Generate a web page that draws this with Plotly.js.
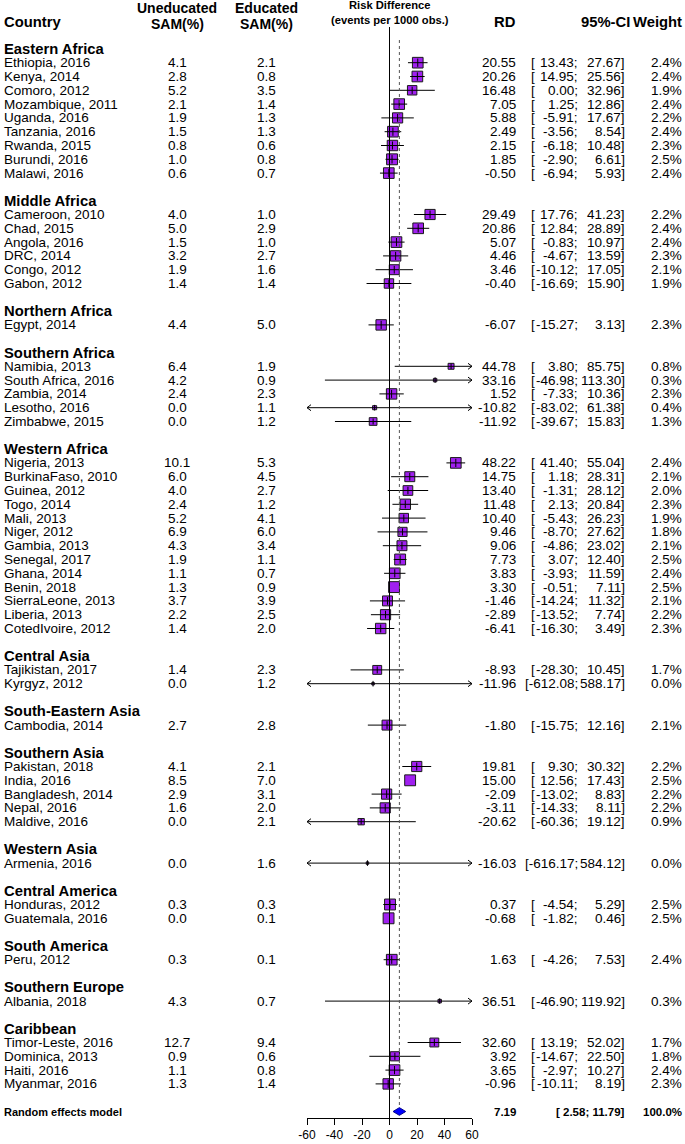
<!DOCTYPE html>
<html><head><meta charset="utf-8">
<script src="https://cdn.plot.ly/plotly-3.0.1.min.js"></script>
<style>html,body{margin:0;padding:0;background:#fff}</style>
</head><body><div id="chart" style="width:685px;height:1144px"></div>
<script>
// ---------------- DATA ----------------
const groupNames = ["Eastern Africa","Middle Africa","Northern Africa","Southern Africa","Western Africa",
  "Central Asia","South-Eastern Asia","Southern Asia","Western Asia","Central America","South America",
  "Southern Europe","Caribbean"];
const groupSizes = [9,6,1,5,13,2,1,5,1,2,1,1,4];
const studies = ["Ethiopia, 2016","Kenya, 2014","Comoro, 2012","Mozambique, 2011","Uganda, 2016","Tanzania, 2016","Rwanda, 2015","Burundi, 2016","Malawi, 2016",
  "Cameroon, 2010","Chad, 2015","Angola, 2016","DRC, 2014","Congo, 2012","Gabon, 2012",
  "Egypt, 2014",
  "Namibia, 2013","South Africa, 2016","Zambia, 2014","Lesotho, 2016","Zimbabwe, 2015",
  "Nigeria, 2013","BurkinaFaso, 2010","Guinea, 2012","Togo, 2014","Mali, 2013","Niger, 2012","Gambia, 2013","Senegal, 2017","Ghana, 2014","Benin, 2018","SierraLeone, 2013","Liberia, 2013","CotedIvoire, 2012",
  "Tajikistan, 2017","Kyrgyz, 2012",
  "Cambodia, 2014",
  "Pakistan, 2018","India, 2016","Bangladesh, 2014","Nepal, 2016","Maldive, 2016",
  "Armenia, 2016",
  "Honduras, 2012","Guatemala, 2016",
  "Peru, 2012",
  "Albania, 2018",
  "Timor-Leste, 2016","Dominica, 2013","Haiti, 2016","Myanmar, 2016"];
const uneducated = ["4.1","2.8","5.2","2.1","1.9","1.5","0.8","1.0","0.6",
  "4.0","5.0","1.5","3.2","1.9","1.4",
  "4.4",
  "6.4","4.2","2.4","0.0","0.0",
  "10.1","6.0","4.0","2.4","5.2","6.9","4.3","1.9","1.1","1.3","3.7","2.2","1.4",
  "1.4","0.0",
  "2.7",
  "4.1","8.5","2.9","1.6","0.0",
  "0.0",
  "0.3","0.0",
  "0.3",
  "4.3",
  "12.7","0.9","1.1","1.3"];
const educated = ["2.1","0.8","3.5","1.4","1.3","1.3","0.6","0.8","0.7",
  "1.0","2.9","1.0","2.7","1.6","1.4",
  "5.0",
  "1.9","0.9","2.3","1.1","1.2",
  "5.3","4.5","2.7","1.2","4.1","6.0","3.4","1.1","0.7","0.9","3.9","2.5","2.0",
  "2.3","1.2",
  "2.8",
  "2.1","7.0","3.1","2.0","2.1",
  "1.6",
  "0.3","0.1",
  "0.1",
  "0.7",
  "9.4","0.6","0.8","1.4"];
const rd = [20.55,20.26,16.48,7.05,5.88,2.49,2.15,1.85,-0.50,
  29.49,20.86,5.07,4.46,3.46,-0.40,
  -6.07,
  44.78,33.16,1.52,-10.82,-11.92,
  48.22,14.75,13.40,11.48,10.40,9.46,9.06,7.73,3.83,3.30,-1.46,-2.89,-6.41,
  -8.93,-11.96,
  -1.80,
  19.81,15.00,-2.09,-3.11,-20.62,
  -16.03,
  0.37,-0.68,
  1.63,
  36.51,
  32.60,3.92,3.65,-0.96];
const ciLower = [13.43,14.95,0.00,1.25,-5.91,-3.56,-6.18,-2.90,-6.94,
  17.76,12.84,-0.83,-4.67,-10.12,-16.69,
  -15.27,
  3.80,-46.98,-7.33,-83.02,-39.67,
  41.40,1.18,-1.31,2.13,-5.43,-8.70,-4.86,3.07,-3.93,-0.51,-14.24,-13.52,-16.30,
  -28.30,-612.08,
  -15.75,
  9.30,12.56,-13.02,-14.33,-60.36,
  -616.17,
  -4.54,-1.82,
  -4.26,
  -46.90,
  13.19,-14.67,-2.97,-10.11];
const ciUpper = [27.67,25.56,32.96,12.86,17.67,8.54,10.48,6.61,5.93,
  41.23,28.89,10.97,13.59,17.05,15.90,
  3.13,
  85.75,113.30,10.36,61.38,15.83,
  55.04,28.31,28.12,20.84,26.23,27.62,23.02,12.40,11.59,7.11,11.32,7.74,3.49,
  10.45,588.17,
  12.16,
  30.32,17.43,8.83,8.11,19.12,
  584.12,
  5.29,0.46,
  7.53,
  119.92,
  52.02,22.50,10.27,8.19];
const weight = [2.4,2.4,1.9,2.4,2.2,2.4,2.3,2.5,2.4,
  2.2,2.4,2.4,2.3,2.1,1.9,
  2.3,
  0.8,0.3,2.3,0.4,1.3,
  2.4,2.1,2.0,2.3,1.9,1.8,2.1,2.5,2.4,2.5,2.1,2.2,2.3,
  1.7,0.0,
  2.1,
  2.2,2.5,2.2,2.2,0.9,
  0.0,
  2.5,2.5,
  2.4,
  0.3,
  1.7,1.8,2.4,2.3];
const overallLabel = "Random effects model";
const overallRD = 7.19;
const overallLower = 2.58;
const overallUpper = 11.79;
const overallWeight = 100.0;
const xTicks = [-60,-40,-20,0,20,40,60];

// ---------------- GEOMETRY ----------------
const W = 685, H = 1144;
const ROW_PX = 13.8, ROW0_PX = 48.9, PLOT_BOTTOM = 1118;
const X_LEFT_PX = 307, X_RIGHT_PX = 472, XMIN = -60, XMAX = 60;
const PX_PER_UNIT = (X_RIGHT_PX - X_LEFT_PX) / (XMAX - XMIN);
const yTop = -ROW0_PX / ROW_PX;
const yBottom = (PLOT_BOTTOM - ROW0_PX) / ROW_PX;
const pxToRow = p => (p - ROW0_PX) / ROW_PX;
const FONT = "Liberation Sans, Arial, Helvetica, sans-serif";

// row layout
const headerRow = [], studyRow = [];
let row = 0;
groupSizes.forEach((n) => {
  headerRow.push(row); row++;
  for (let j = 0; j < n; j++) { studyRow.push(row); row++; }
  row++;
});
const overallRow = row;

// ---------------- TRACES ----------------
const clip = v => Math.max(XMIN, Math.min(XMAX, v));
const side = w => Math.max(2.5, 7.2 * Math.sqrt(w) - 0.5);

const sqX = [], sqY = [], sqS = [];
const lnX = [], lnY = [];
const tkX = [], tkY = [], tkS = [];
const arX = [], arY = [];
const AH = 4 / PX_PER_UNIT, AV = 3 / ROW_PX;
studies.forEach((s, i) => {
  const r = studyRow[i];
  const sz = side(weight[i]);
  sqX.push(rd[i]); sqY.push(r); sqS.push(sz);
  const lo = clip(ciLower[i]), hi = clip(ciUpper[i]);
  const widthPx = (hi - lo) * PX_PER_UNIT;
  if (widthPx > sz + 1) {
    lnX.push(lo, hi, null); lnY.push(r, r, null);
    tkX.push(rd[i]); tkY.push(r); tkS.push(Math.max(4, sz * 0.55));
  }
  if (ciUpper[i] > XMAX) { arX.push(XMAX - AH, XMAX, XMAX - AH, null); arY.push(r - AV, r, r + AV, null); }
  if (ciLower[i] < XMIN) { arX.push(XMIN + AH, XMIN, XMIN + AH, null); arY.push(r - AV, r, r + AV, null); }
});

const DH = 0.28;
const traces = [
  {x: sqX, y: sqY, type: 'scatter', mode: 'markers', hoverinfo: 'skip',
   marker: {symbol: 'square', size: sqS, color: '#A020F0', opacity: 1, line: {color: '#1a1a1a', width: 1}}},
  {x: lnX, y: lnY, type: 'scatter', mode: 'lines', hoverinfo: 'skip', connectgaps: false,
   line: {color: '#000', width: 1}},
  {x: tkX, y: tkY, type: 'scatter', mode: 'markers', hoverinfo: 'skip',
   marker: {symbol: 'line-ns', size: tkS, opacity: 1, line: {color: '#000', width: 1}}},
  {x: arX, y: arY, type: 'scatter', mode: 'lines', hoverinfo: 'skip', connectgaps: false,
   line: {color: '#000', width: 1}},
  {x: [overallLower, overallRD, overallUpper, overallRD, overallLower],
   y: [overallRow, overallRow - DH, overallRow, overallRow + DH, overallRow],
   type: 'scatter', mode: 'lines', fill: 'toself', fillcolor: '#0000FF', hoverinfo: 'skip',
   line: {color: '#00008B', width: 1}}
];

// ---------------- TEXT ----------------
const ann = [];
function t(text, xpx, r, anchor, size, bold) {
  ann.push({text: bold ? '<b>' + text + '</b>' : text, xref: 'paper', yref: 'y',
    x: xpx / W, y: r, xanchor: anchor, yanchor: 'middle', showarrow: false,
    borderpad: 0, font: {family: FONT, size: size, color: '#000'}});
}
const COL_NAME = 3, COL_UN = 177, COL_ED = 266, COL_RD = 517, COL_BR = 530, COL_SC = 579, COL_CI = 626, COL_W = 683;
const FS = 13.5, FH = 14.8;

// column headers
t('Country', COL_NAME, pxToRow(22), 'left', FH, true);
t('Uneducated', COL_UN, pxToRow(8.2), 'center', 14, true);
t('SAM(%)', COL_UN, pxToRow(23.8), 'center', 14, true);
t('Educated', COL_ED, pxToRow(8.2), 'center', 14, true);
t('SAM(%)', COL_ED, pxToRow(23.8), 'center', 14, true);
t('Risk Difference<br>(events per 1000 obs.)', 390, pxToRow(12.8), 'center', 11.2, true);
t('RD', COL_RD, pxToRow(22), 'right', FH, true);
t('95%-CI', 631, pxToRow(22), 'right', FH, true);
t('Weight', COL_W, pxToRow(22), 'right', FH, true);

groupNames.forEach((g, gi) => t(g, COL_NAME, headerRow[gi], 'left', FH, true));

const nb = '\u00A0';
studies.forEach((s, i) => {
  const r = studyRow[i];
  t(s, COL_NAME, r, 'left', FS, false);
  t(uneducated[i], COL_UN, r, 'center', FS, false);
  t(educated[i], COL_ED, r, 'center', FS, false);
  t(rd[i].toFixed(2), COL_RD, r, 'right', FS, false);
  const lo = ciLower[i].toFixed(2), hi = ciUpper[i].toFixed(2);
  if (lo.length <= 6) {
    t('[', COL_BR, r, 'left', FS, false);
    t(lo + ';', COL_SC, r, 'right', FS, false);
  } else {
    t('[' + lo + ';', COL_SC, r, 'right', FS, false);
  }
  t(hi + ']', COL_CI, r, 'right', FS, false);
  t(weight[i].toFixed(1) + '%', COL_W, r, 'right', FS, false);
});

t(overallLabel, COL_NAME, overallRow, 'left', 11, true);
t(overallRD.toFixed(2), COL_RD, overallRow, 'right', 11.5, true);
t('[' + nb + overallLower.toFixed(2) + ';' + nb + overallUpper.toFixed(2) + ']', COL_CI, overallRow, 'right', 11.5, true);
t(overallWeight.toFixed(1) + '%', COL_W, overallRow, 'right', 11.5, true);

// ---------------- SHAPES ----------------
const shapes = [
  {type: 'line', xref: 'x', yref: 'y', x0: 0, x1: 0, y0: pxToRow(27), y1: yBottom,
   line: {color: '#000', width: 1}},
  {type: 'line', xref: 'x', yref: 'y', x0: overallRD, x1: overallRD, y0: pxToRow(40), y1: overallRow - DH,
   line: {color: '#555', width: 1, dash: 'dot'}}
];

const layout = {
  width: W, height: H,
  margin: {l: 0, r: 0, t: 0, b: H - PLOT_BOTTOM, pad: 0},
  paper_bgcolor: '#fff', plot_bgcolor: '#fff',
  showlegend: false,
  xaxis: {domain: [X_LEFT_PX / W, X_RIGHT_PX / W], range: [XMIN, XMAX],
    tickmode: 'array', tickvals: xTicks, ticktext: xTicks.map(v => String(v)),
    ticks: 'outside', ticklen: 6, tickcolor: '#000', tickwidth: 1,
    showline: true, linecolor: '#000', linewidth: 1, showgrid: false, zeroline: false,
    tickfont: {family: FONT, size: 12, color: '#000'}, fixedrange: true, automargin: false},
  yaxis: {range: [yBottom, yTop], visible: false, showgrid: false, zeroline: false, fixedrange: true},
  annotations: ann,
  shapes: shapes
};

Plotly.newPlot('chart', traces, layout, {staticPlot: true, displayModeBar: false});
</script>
</body></html>
